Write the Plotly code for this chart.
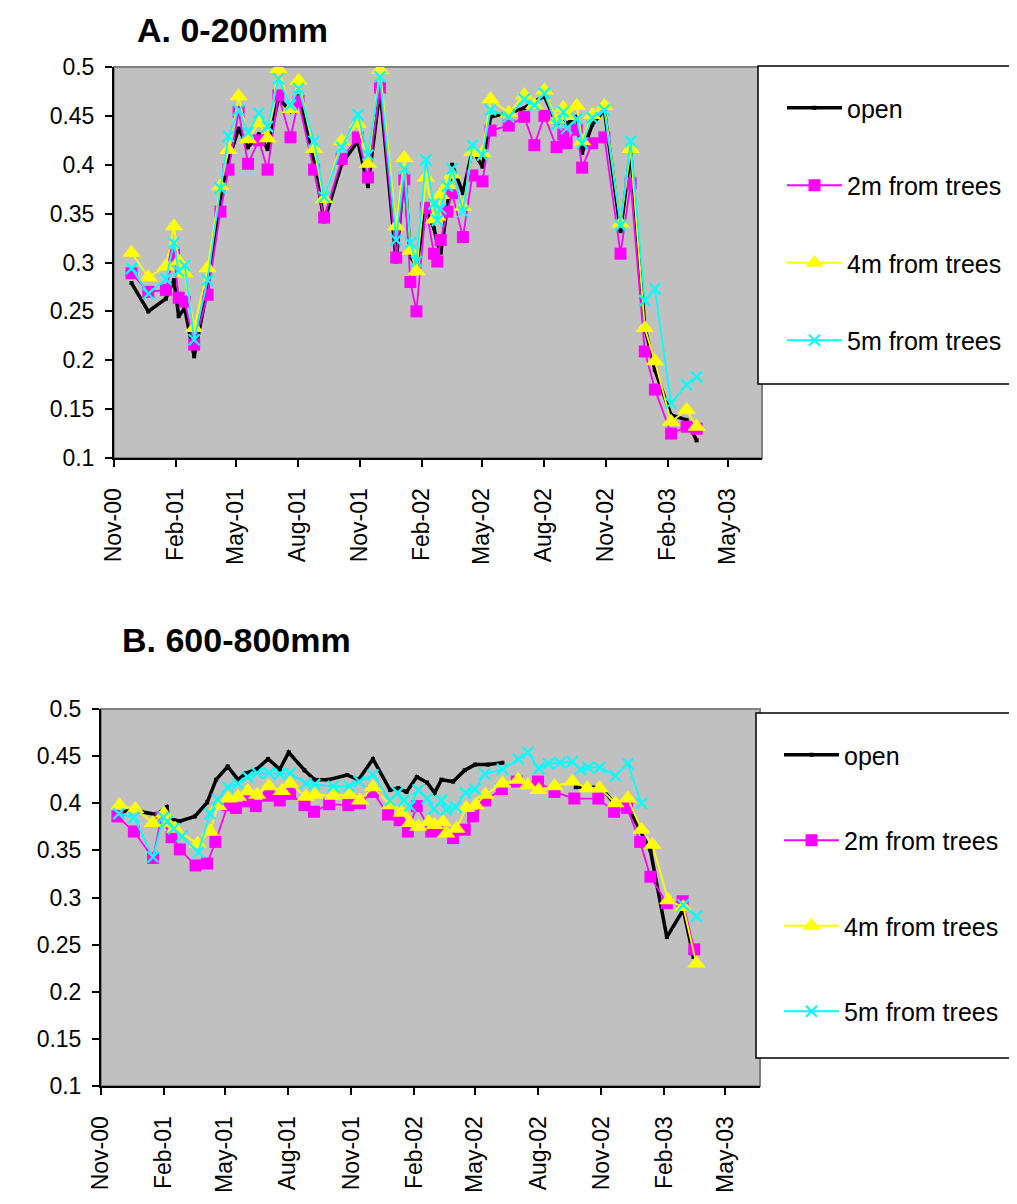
import plotly.graph_objects as go

# ---------------- Panel A: 0-200mm ----------------
dates_a = ["2000-11-27","2000-12-22","2001-01-17","2001-01-29","2001-02-05","2001-02-14","2001-02-28","2001-03-20",
           "2001-04-08","2001-04-20","2001-05-05","2001-05-19","2001-06-04","2001-06-17","2001-07-03","2001-07-21",
           "2001-08-02","2001-08-25","2001-09-09","2001-10-05","2001-10-29","2001-11-13","2001-12-01","2001-12-25",
           "2002-01-06","2002-01-15","2002-01-24","2002-02-07","2002-02-19","2002-02-24","2002-03-01","2002-03-11",
           "2002-03-18","2002-04-03","2002-04-17","2002-05-02","2002-05-14","2002-06-10","2002-07-03","2002-07-18",
           "2002-08-02","2002-08-20","2002-08-30","2002-09-04","2002-09-19","2002-09-27","2002-10-12","2002-10-30",
           "2002-11-23","2002-12-08","2002-12-29","2003-01-13","2003-02-06","2003-03-01","2003-03-16"]
open_a = [0.279,0.250,0.263,0.282,0.245,0.253,0.204,0.275,0.367,0.405,0.437,0.418,0.431,0.416,0.468,0.455,0.470,0.403,
          0.342,0.401,0.424,0.378,0.477,0.301,0.395,0.306,0.297,0.354,0.335,0.320,0.310,0.357,0.400,0.371,0.415,0.398,
          0.449,0.453,0.458,0.465,0.470,0.442,0.445,0.442,0.449,0.412,0.441,0.456,0.332,0.413,0.234,0.190,0.144,0.139,0.118]
two_a = [0.289,0.270,0.272,0.308,0.264,0.260,0.216,0.267,0.352,0.395,0.454,0.401,0.425,0.395,0.471,0.428,0.465,0.395,
         0.346,0.406,0.428,0.387,0.479,0.305,0.385,0.280,0.250,0.356,0.309,0.301,0.323,0.352,0.371,0.326,0.389,0.383,
         0.435,0.440,0.449,0.420,0.450,0.418,0.431,0.422,0.436,0.397,0.422,0.428,0.309,0.381,0.209,0.170,0.125,0.132,0.130]
four_a = [0.310,0.285,0.296,0.337,0.301,0.289,0.233,0.294,0.378,0.415,0.470,0.426,0.443,0.427,0.498,0.457,0.486,0.416,
          0.365,0.424,0.442,0.401,0.497,0.337,0.407,0.312,0.291,0.387,0.344,0.347,0.369,0.379,0.390,0.357,0.413,0.412,
          0.467,0.453,0.471,0.461,0.476,0.446,0.458,0.450,0.460,0.424,0.451,0.460,0.340,0.416,0.233,0.199,0.137,0.149,0.132]
five_a = [0.294,0.268,0.283,0.320,0.291,0.297,0.221,0.282,0.376,0.429,0.456,0.433,0.453,0.439,0.488,0.461,0.478,0.424,
          0.367,0.418,0.451,0.410,0.490,0.323,0.396,0.320,0.301,0.405,0.360,0.343,0.355,0.378,0.396,0.352,0.420,0.410,
          0.456,0.449,0.467,0.461,0.473,0.441,0.454,0.437,0.447,0.422,0.448,0.456,0.338,0.424,0.261,0.273,0.156,0.175,0.183]

# ---------------- Panel B: 600-800mm ----------------
open_b_dates = ["2000-11-26","2000-12-10","2000-12-30","2001-01-21","2001-02-05","2001-02-08","2001-02-24","2001-03-18",
                "2001-04-05","2001-04-18","2001-05-05","2001-05-20","2001-06-01","2001-06-16","2001-07-03","2001-07-20",
                "2001-08-02","2001-08-25","2001-09-09","2001-09-29","2001-10-26","2001-11-12","2001-12-03","2001-12-28",
                "2002-01-09","2002-01-21","2002-02-05","2002-02-20","2002-03-03","2002-03-13","2002-03-30","2002-04-16",
                "2002-05-01","2002-05-20","2002-06-10","2002-08-01","2002-09-25","2002-11-01","2002-11-20","2002-12-09",
                "2003-01-12","2003-02-05","2003-03-01","2003-03-16"]
open_b = [0.390,0.392,0.391,0.388,0.396,0.384,0.381,0.386,0.401,0.425,0.439,0.425,0.432,0.436,0.447,0.436,0.454,0.435,
          0.425,0.425,0.430,0.425,0.447,0.414,0.416,0.412,0.428,0.422,0.411,0.425,0.423,0.435,0.441,0.441,0.443,None,
          0.417,0.417,0.400,0.398,0.350,0.258,0.287,0.237]
two_b_dates = ["2000-11-25","2000-12-19","2001-01-16","2001-01-28","2001-02-12","2001-02-24","2001-03-19","2001-04-05",
               "2001-04-17","2001-05-05","2001-05-17","2001-06-04","2001-06-15","2001-07-04","2001-07-20","2001-08-04",
               "2001-08-25","2001-09-08","2001-09-30","2001-10-28","2001-11-14","2001-12-03","2001-12-25","2002-01-11",
               "2002-01-23","2002-02-05","2002-02-26","2002-03-12","2002-03-30","2002-04-16","2002-04-28","2002-05-16",
               "2002-06-09","2002-07-01","2002-08-01","2002-08-25","2002-09-23","2002-10-28","2002-11-20","2002-12-09",
               "2002-12-28","2003-01-12","2003-02-05","2003-02-28","2003-03-17"]
two_b = [0.386,0.370,0.342,0.385,0.364,0.351,0.334,0.336,0.359,0.398,0.395,0.402,0.397,0.408,0.403,0.410,0.398,0.391,
         0.399,0.398,0.400,0.412,0.388,0.382,0.370,0.397,0.370,0.372,0.363,0.372,0.386,0.403,0.415,0.423,0.423,0.412,
         0.405,0.405,0.391,0.395,0.359,0.322,0.294,0.296,0.245]
four_b_dates = ["2000-11-28","2000-12-21","2001-01-16","2001-02-01","2001-02-06","2001-02-17","2001-03-22","2001-04-09",
                "2001-04-21","2001-05-06","2001-05-20","2001-06-03","2001-06-17","2001-07-04","2001-07-23","2001-08-04",
                "2001-08-27","2001-09-09","2001-10-06","2001-10-30","2001-11-14","2001-12-03","2001-12-28","2002-01-14",
                "2002-01-26","2002-02-07","2002-02-22","2002-03-03","2002-03-15","2002-03-20","2002-04-04","2002-04-18",
                "2002-05-02","2002-05-16","2002-06-10","2002-07-03","2002-07-17","2002-08-02","2002-08-25","2002-09-20",
                "2002-10-12","2002-10-30","2002-11-22","2002-12-10","2002-12-30","2003-01-15","2003-02-07","2003-03-01",
                "2003-03-20"]
four_b = [0.398,0.394,0.379,0.389,0.379,0.373,0.357,0.370,0.397,0.405,0.407,0.413,0.409,0.418,0.413,0.421,0.407,0.409,
          0.408,0.409,0.403,0.417,0.398,0.390,0.379,0.375,0.380,0.377,0.380,0.368,0.373,0.395,0.398,0.409,0.421,0.425,
          0.419,0.414,0.418,0.423,0.416,0.416,0.400,0.405,0.372,0.356,0.297,0.290,0.230]
five_b_dates = ["2000-11-27","2000-12-19","2001-01-16","2001-01-31","2001-02-06","2001-02-15","2001-02-27","2001-03-23",
                "2001-04-09","2001-04-20","2001-05-05","2001-05-20","2001-06-03","2001-06-17","2001-07-04","2001-07-20",
                "2001-08-04","2001-08-27","2001-09-09","2001-10-06","2001-10-29","2001-11-13","2001-12-03","2001-12-28",
                "2002-01-08","2002-01-17","2002-01-26","2002-02-07","2002-02-20","2002-03-02","2002-03-13","2002-03-20",
                "2002-04-03","2002-04-17","2002-05-01","2002-05-15","2002-06-10","2002-07-03","2002-07-17","2002-08-02",
                "2002-08-16","2002-09-02","2002-09-20","2002-10-02","2002-10-13","2002-10-30","2002-11-22","2002-12-10",
                "2002-12-30","2003-02-01","2003-03-01","2003-03-20"]
five_b = [0.389,0.385,0.343,0.385,0.381,0.373,0.365,0.348,0.389,0.404,0.417,0.421,0.428,0.432,0.432,0.431,0.432,0.421,
          0.420,0.418,0.418,0.423,0.430,0.403,0.411,0.403,0.397,0.414,0.405,0.394,0.403,0.393,0.396,0.411,0.415,0.431,
          0.436,0.447,0.454,0.437,0.442,0.443,0.444,0.436,0.438,0.438,0.429,0.442,0.400,None,0.292,0.280]

series_names = ["open", "2m from trees", "4m from trees", "5m from trees"]
y_tickvals = [0.1, 0.15, 0.2, 0.25, 0.3, 0.35, 0.4, 0.45, 0.5]
y_ticktext = ["0.1", "0.15", "0.2", "0.25", "0.3", "0.35", "0.4", "0.45", "0.5"]
x_range = ["2000-11-01", "2003-06-21"]

# page has an 8px body margin; figure sized to fit the window exactly
OFF = 8
W, H = 1017 - 2 * OFF, 1204 - 2 * OFF
FONT = "Liberation Sans, Arial, sans-serif"

def px(x):   # window pixel x -> paper fraction
    return (x - OFF) / W

def py(y):   # window pixel y (from top) -> paper fraction
    return 1 - (y - OFF) / H

styles = [
    dict(line=dict(color="black", width=3.5), marker=dict(symbol="square", size=4, color="black")),
    dict(line=dict(color="#FF00FF", width=1.8), marker=dict(symbol="square", size=12, color="#FF00FF")),
    dict(line=dict(color="#FFFF00", width=1.8), marker=dict(symbol="triangle-up", size=16, color="#FFFF00")),
    dict(line=dict(color="#00FFFF", width=1.8), marker=dict(symbol="x-thin-open", size=11, color="#00FFFF",
                                                            line=dict(color="#00FFFF", width=2.2))),
]

fig = go.Figure()

panel_a = [(dates_a, open_a), (dates_a, two_a), (dates_a, four_a), (dates_a, five_a)]
panel_b = [(open_b_dates, open_b), (two_b_dates, two_b), (four_b_dates, four_b), (five_b_dates, five_b)]

for i, (xs, ys) in enumerate(panel_a):
    fig.add_trace(go.Scatter(x=xs, y=ys, mode="lines+markers", name=series_names[i],
                             xaxis="x", yaxis="y", legend="legend", legendgroup="a%d" % i,
                             connectgaps=False, **styles[i]))
for i, (xs, ys) in enumerate(panel_b):
    fig.add_trace(go.Scatter(x=xs, y=ys, mode="lines+markers", name=series_names[i],
                             xaxis="x2", yaxis="y2", legend="legend2", legendgroup="b%d" % i,
                             connectgaps=False, **styles[i]))

def xax(domain, anchor):
    return dict(domain=domain, anchor=anchor, type="date", range=x_range, tick0="2000-11-01", dtick="M3",
                tickformat="%b-%y", tickangle=-90, ticks="outside", ticklen=7, tickwidth=1.5, tickcolor="black",
                showline=True, linecolor="black", linewidth=2, showgrid=False, zeroline=False,
                ticklabelstandoff=12, automargin=False,
                tickfont=dict(family=FONT, size=23, color="black"))

def yax(domain, anchor):
    return dict(domain=domain, anchor=anchor, range=[0.1, 0.5], tickvals=y_tickvals, ticktext=y_ticktext,
                ticks="outside", ticklen=7, tickwidth=1.5, tickcolor="black", showline=True, linecolor="black",
                linewidth=2, showgrid=False, zeroline=False, ticklabelstandoff=6, automargin=False,
                tickfont=dict(family=FONT, size=23, color="black"))

legend_common = dict(bgcolor="rgba(0,0,0,0)", borderwidth=0, traceorder="grouped", itemwidth=55,
                     font=dict(family=FONT, size=25, color="black"), xanchor="left", yanchor="top")

fig.update_layout(
    width=W, height=H,
    margin=dict(l=0, r=0, t=0, b=0, autoexpand=False),
    paper_bgcolor="white", plot_bgcolor="#C0C0C0",
    xaxis=xax([px(114), px(762)], "y"),
    yaxis=yax([py(458), py(67)], "x"),
    xaxis2=xax([px(101), px(760)], "y2"),
    yaxis2=yax([py(1086), py(709)], "x2"),
    legend=dict(x=px(782), y=py(85), tracegroupgap=42, **legend_common),
    legend2=dict(x=px(779), y=py(732), tracegroupgap=50, **legend_common),
    shapes=[
        dict(type="rect", xref="x domain", yref="y domain", x0=0, x1=1, y0=0, y1=1,
             line=dict(color="#808080", width=2), layer="below"),
        dict(type="rect", xref="x2 domain", yref="y2 domain", x0=0, x1=1, y0=0, y1=1,
             line=dict(color="#808080", width=2), layer="below"),
        dict(type="rect", xref="paper", yref="paper", x0=px(758), x1=1.05, y0=py(384), y1=py(66),
             line=dict(color="black", width=1.5), fillcolor="white", layer="above"),
        dict(type="rect", xref="paper", yref="paper", x0=px(756), x1=1.05, y0=py(1058), y1=py(713),
             line=dict(color="black", width=1.5), fillcolor="white", layer="above"),
    ],
    annotations=[
        dict(text="<b>A. 0-200mm</b>", xref="paper", yref="paper", x=px(135), y=py(8.5),
             xanchor="left", yanchor="top", showarrow=False, font=dict(family=FONT, size=34, color="black")),
        dict(text="<b>B. 600-800mm</b>", xref="paper", yref="paper", x=px(120), y=py(619),
             xanchor="left", yanchor="top", showarrow=False, font=dict(family=FONT, size=34, color="black")),
    ],
)

fig.write_html("out.html")
